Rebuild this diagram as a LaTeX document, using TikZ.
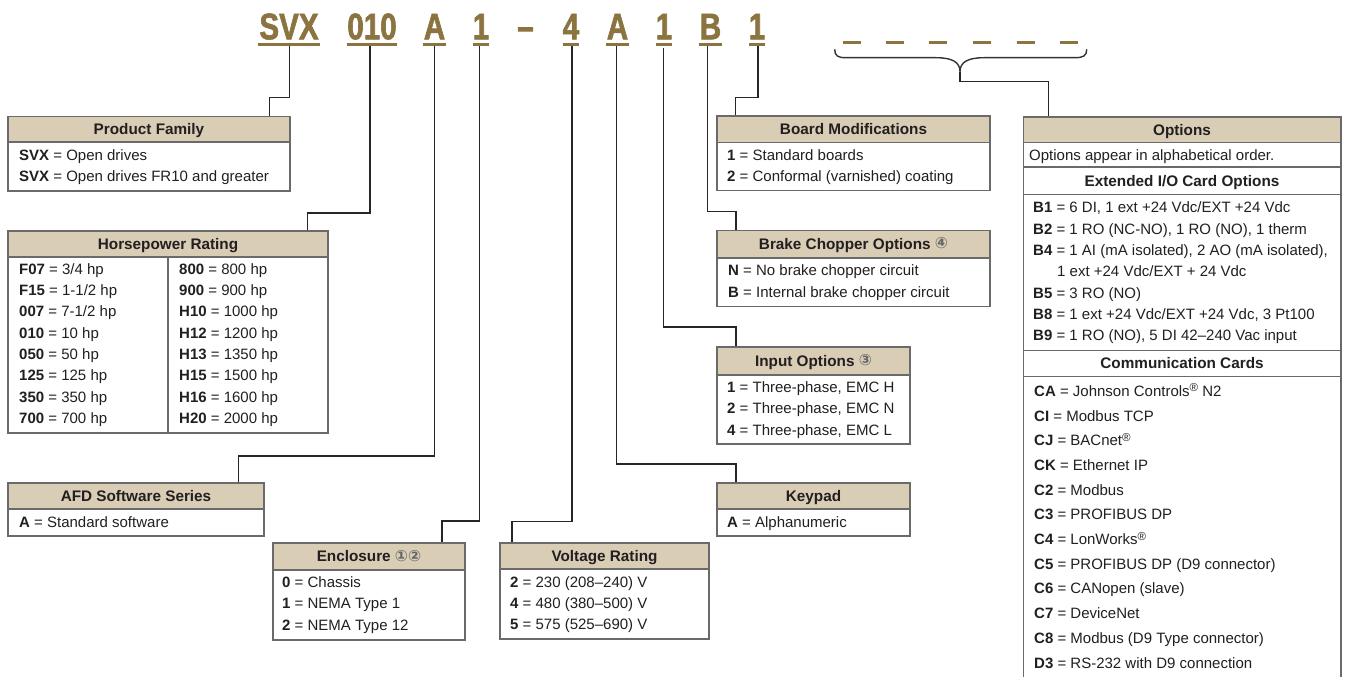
\documentclass[tikz,border=0pt]{standalone}
\usepackage{fontspec}
\setmainfont{Liberation Sans}
\newfontfamily\codefont[FakeStretch=0.8,FakeBold=1.6]{Liberation Sans Bold}
\newfontfamily\symfont{DejaVu Sans}
\definecolor{gold}{HTML}{8B7440}
\definecolor{tan}{HTML}{D9CDB5}
\definecolor{txt}{HTML}{231F20}
\definecolor{frm}{HTML}{6A6A6A}
\tikzset{
 frame/.style={draw=frm, line width=1.3pt, fill=white, inner sep=0, outer sep=0},
 hdr/.style={draw=frm, line width=1.3pt, fill=tan, inner sep=0, outer sep=0},
 fline/.style={draw=frm, line width=1.3pt},
 conn/.style={draw=black!85, line width=1.25pt},
 brace/.style={draw=black!80, line width=1.4pt},
 htext/.style={font=\fontsize{15.3}{18}\selectfont\bfseries, text=txt, inner sep=0, text height=10.8pt, text depth=0pt},
 row/.style={anchor=west, inner sep=0, text height=10.7pt, text depth=0pt, font=\fontsize{15}{18}\selectfont, text=txt},
 code/.style={font=\codefont\fontsize{37}{40}\selectfont, text=gold, inner sep=0, anchor=base},
 uline/.style={draw=gold, line width=2.7pt},
}
\newcommand\circnum[1]{{\symfont\fontsize{15.5}{15.5}\selectfont\color{black!60}\raisebox{0.8pt}{#1}}}
\newcommand\reg{\raisebox{4.5pt}{\fontsize{11.5}{11.5}\selectfont\textregistered}}
\newcommand\spbox[6]{%
 \node[frame, anchor=north west, minimum width={(#4-#2)*1pt}, minimum height={(#6-#3)*1pt}] (#1) at (#2,#3) {};
 \node[hdr, anchor=north west, minimum width={(#4-#2)*1pt}, minimum height={(#5-#3)*1pt}] (#1h) at (#2,#3) {};
}
\begin{document}
\begin{tikzpicture}[x=1pt,y=-1pt]
\useasboundingbox (0,0) rectangle (1346,677);
\fill[white] (0,0) rectangle (1346,677);

% ---------- code line ----------
\node[code] (cSVX) at (289,39.3) {SVX};
\node[code] (cHP) at (372,39.3) {010};
\node[code] (cAFD) at (434.5,39.3) {A};
\node[code] (cENC) at (481,39.3) {1};
\node[code] (cDash) at (525.5,39.3) {–};
\node[code] (cVOL) at (571,39.3) {4};
\node[code] (cKEY) at (617.5,39.3) {A};
\node[code] (cINP) at (664,39.3) {1};
\node[code] (cBRK) at (710.5,39.3) {B};
\node[code] (cBRD) at (757,39.3) {1};
\foreach \a/\b in {257.7/320, 347.3/396.7, 423/446, 472.7/489.3, 562.7/578.7, 606/628.7, 656/672, 699/722, 749/765}
  \draw[uline] (\a,44.3) -- (\b,44.3);
\foreach \a in {842.7,886,929,972.7,1016.7,1060}
  \draw[uline, line width=2.4pt] (\a,42.7) -- ++(18,0);

% brace
\coordinate (brc) at (960,71.7);
\draw[brace] (834.7,49.3) .. controls (834.7,56) and (838,57.7) .. (846,57.7) -- (936,57.7)
  .. controls (952,57.7) and (960,62) .. (brc)
  .. controls (960,62) and (968,57.7) .. (984,57.7) -- (1075,57.7)
  .. controls (1083,57.7) and (1086.7,56) .. (1086.7,49.3);

% ---------- connectors ----------
\coordinate (uSVX) at (289.3,45.6); \coordinate (kSVX) at (269.3,97.3); \coordinate (tSVX) at (269.3,116.5);
\coordinate (uHP) at (370,45.6);    \coordinate (kHP) at (307.3,213);   \coordinate (tHP) at (307.3,231);
\coordinate (uAFD) at (434.3,45.6); \coordinate (kAFD) at (238.5,456);  \coordinate (tAFD) at (238.5,483);
\coordinate (uENC) at (479.5,45.6); \coordinate (kENC) at (442,521);    \coordinate (tENC) at (442,543);
\coordinate (uVOL) at (572,45.6);   \coordinate (kVOL) at (512,521.5);  \coordinate (tVOL) at (512,543);
\coordinate (uKEY) at (616.7,45.6); \coordinate (kKEY) at (736,464);    \coordinate (tKEY) at (736,483);
\coordinate (uINP) at (663.3,48);   \coordinate (kINP) at (736,327);    \coordinate (tINP) at (736,347);
\coordinate (uBRK) at (707.7,45.6); \coordinate (kBRK) at (736,211.7);  \coordinate (tBRK) at (736,230.7);
\coordinate (uBRD) at (758,45.6);   \coordinate (kBRD) at (735.5,97.3); \coordinate (tBRD) at (735.5,116);
\coordinate (kOPT) at (1048.3,81.7); \coordinate (tOPT) at (1048.3,117);
\foreach \n in {SVX,HP,AFD,ENC,VOL,KEY,INP,BRK,BRD}
  \draw[conn] (u\n) |- (k\n) -- (t\n);
\draw[conn] (brc) |- (kOPT) -- (tOPT);

% ---------- Product Family ----------
\spbox{pf}{8}{116.5}{290}{142}{191}
\node[htext] (pfH) at (149,129.3) {Product Family};
\node[row] (pf1) at (19,155) {\textbf{SVX} = Open drives};
\node[row] (pf2) at (19,176) {\textbf{SVX} = Open drives FR10 and greater};

% ---------- Horsepower ----------
\spbox{hp}{8}{231}{328}{257}{433}
\draw[fline] (168,257) -- (168,433);
\node[htext] (hpH) at (168,244) {Horsepower Rating};
\node[row] (hpL1) at (19,269)   {\textbf{F07} = 3/4 hp};
\node[row] (hpL2) at (19,290.3) {\textbf{F15} = 1-1/2 hp};
\node[row] (hpL3) at (19,311.6) {\textbf{007} = 7-1/2 hp};
\node[row] (hpL4) at (19,332.9) {\textbf{010} = 10 hp};
\node[row] (hpL5) at (19,354.2) {\textbf{050} = 50 hp};
\node[row] (hpL6) at (19,375.5) {\textbf{125} = 125 hp};
\node[row] (hpL7) at (19,396.8) {\textbf{350} = 350 hp};
\node[row] (hpL8) at (19,418.1) {\textbf{700} = 700 hp};
\node[row] (hpR1) at (179,269)   {\textbf{800} = 800 hp};
\node[row] (hpR2) at (179,290.3) {\textbf{900} = 900 hp};
\node[row] (hpR3) at (179,311.6) {\textbf{H10} = 1000 hp};
\node[row] (hpR4) at (179,332.9) {\textbf{H12} = 1200 hp};
\node[row] (hpR5) at (179,354.2) {\textbf{H13} = 1350 hp};
\node[row] (hpR6) at (179,375.5) {\textbf{H15} = 1500 hp};
\node[row] (hpR7) at (179,396.8) {\textbf{H16} = 1600 hp};
\node[row] (hpR8) at (179,418.1) {\textbf{H20} = 2000 hp};

% ---------- AFD ----------
\spbox{afd}{8}{483}{264}{509}{536}
\node[htext] (afdH) at (136,496) {AFD Software Series};
\node[row] (afd1) at (19,522) {\textbf{A} = Standard software};

% ---------- Enclosure ----------
\spbox{enc}{273}{543}{465}{570}{640}
\node[htext] (encH) at (369,556.5) {Enclosure \circnum{①②}};
\node[row] (enc1) at (282,582)   {\textbf{0} = Chassis};
\node[row] (enc2) at (282,603.5) {\textbf{1} = NEMA Type 1};
\node[row] (enc3) at (282,625)   {\textbf{2} = NEMA Type 12};

% ---------- Voltage ----------
\spbox{vol}{500}{543}{709}{569}{639}
\node[htext] (volH) at (604.5,556) {Voltage Rating};
\node[row] (vol1) at (510,582) {\textbf{2} = 230 (208–240) V};
\node[row] (vol2) at (510,603) {\textbf{4} = 480 (380–500) V};
\node[row] (vol3) at (510,624) {\textbf{5} = 575 (525–690) V};

% ---------- Board ----------
\spbox{brd}{717}{116}{990}{142.5}{190.5}
\node[htext] (brdH) at (853.5,129.3) {Board Modifications};
\node[row] (brd1) at (727,155) {\textbf{1} = Standard boards};
\node[row] (brd2) at (727,176) {\textbf{2} = Conformal (varnished) coating};

% ---------- Brake ----------
\spbox{brk}{717}{230.7}{990}{258}{306.7}
\node[htext] (brkH) at (853.5,244.3) {Brake Chopper Options \circnum{④}};
\node[row] (brk1) at (728,270) {\textbf{N} = No brake chopper circuit};
\node[row] (brk2) at (728,292) {\textbf{B} = Internal brake chopper circuit};

% ---------- Input ----------
\spbox{inp}{717}{347}{910}{375}{444}
\node[htext] (inpH) at (813.5,361) {Input Options \circnum{③}};
\node[row] (inp1) at (727,387) {\textbf{1} = Three-phase, EMC H};
\node[row] (inp2) at (727,408) {\textbf{2} = Three-phase, EMC N};
\node[row] (inp3) at (727,430) {\textbf{4} = Three-phase, EMC L};

% ---------- Keypad ----------
\spbox{key}{717}{483}{910}{509}{536}
\node[htext] (keyH) at (813.5,496) {Keypad};
\node[row] (key1) at (727,522) {\textbf{A} = Alphanumeric};

% ---------- Options ----------
\draw[fline] (1023.3,680) -- (1023.3,117) -- (1341,117) -- (1341,680);
\node[hdr, anchor=north west, minimum width=317.7pt, minimum height=25.5pt] (opt) at (1023.3,117) {};
\node[htext] (optH) at (1182,129.8) {Options};
\node[row] (opt0) at (1029,155) {Options appear in alphabetical order.};
\draw[fline] (1023.3,167) -- (1341,167);
\node[htext] (extH) at (1182,181) {Extended I/O Card Options};
\draw[fline] (1023.3,194.5) -- (1341,194.5);
\node[row] (b1) at (1033,207.5) {\textbf{B1} = 6 DI, 1 ext +24 Vdc/EXT +24 Vdc};
\node[row] (b2) at (1033,229)   {\textbf{B2} = 1 RO (NC-NO), 1 RO (NO), 1 therm};
\node[row] (b4) at (1033,250.3) {\textbf{B4} = 1 AI (mA isolated), 2 AO (mA isolated),};
\node[row] (b4b) at (1057,271.6) {1 ext +24 Vdc/EXT + 24 Vdc};
\node[row] (b5) at (1033,293)   {\textbf{B5} = 3 RO (NO)};
\node[row] (b8) at (1033,314.3) {\textbf{B8} = 1 ext +24 Vdc/EXT +24 Vdc, 3 Pt100};
\node[row] (b9) at (1033,335.6) {\textbf{B9} = 1 RO (NO), 5 DI 42–240 Vac input};
\draw[fline] (1023.3,350.5) -- (1341,350.5);
\node[htext] (comH) at (1182,363.5) {Communication Cards};
\draw[fline] (1023.3,376.5) -- (1341,376.5);
\node[row] (ca) at (1034,391)   {\textbf{CA} = Johnson Controls\reg{} N2};
\node[row] (ci) at (1034,415.7) {\textbf{CI} = Modbus TCP};
\node[row] (cj) at (1034,440.4) {\textbf{CJ} = BACnet\reg};
\node[row] (ck) at (1034,465.1) {\textbf{CK} = Ethernet IP};
\node[row] (c2) at (1034,489.8) {\textbf{C2} = Modbus};
\node[row] (c3) at (1034,514.5) {\textbf{C3} = PROFIBUS DP};
\node[row] (c4) at (1034,539.2) {\textbf{C4} = LonWorks\reg};
\node[row] (c5) at (1034,563.9) {\textbf{C5} = PROFIBUS DP (D9 connector)};
\node[row] (c6) at (1034,588.6) {\textbf{C6} = CANopen (slave)};
\node[row] (c7) at (1034,613.3) {\textbf{C7} = DeviceNet};
\node[row] (c8) at (1034,638)   {\textbf{C8} = Modbus (D9 Type connector)};
\node[row] (d3) at (1034,662.7) {\textbf{D3} = RS-232 with D9 connection};
\end{tikzpicture}
\end{document}
